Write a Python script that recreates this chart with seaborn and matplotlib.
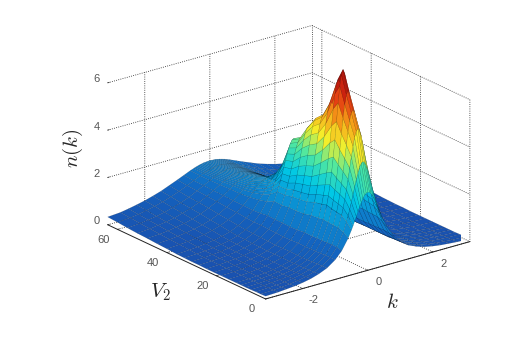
import numpy as np
import matplotlib
matplotlib.use("Agg")
import matplotlib.pyplot as plt
import seaborn as sns

sns.set_theme(style="white")
plt.rcParams["font.family"] = ["Liberation Sans", "DejaVu Sans"]
plt.rcParams["mathtext.fontset"] = "cm"
plt.rcParams["axes.unicode_minus"] = False

k_half = [0, .05, .1, .15, .2, .25, .3, .35, .4, .45, .5, .6, .8, 1, 1.25, 1.5, 1.75, 2, 2.25, 2.5, 2.75, 3.14]
V2 = [0, 2, 4, 6, 8, 10, 12, 15, 18, 21, 24, 27, 30, 33, 36, 40, 44, 48, 52, 56, 60, 64]
n_half = [
    [3.30, 3.28, 3.20, 3.09, 2.95, 2.78, 2.60, 2.41, 2.23, 2.05, 1.89, 1.59, 1.13, .83, .58, .43, .32, .25, .20, .17, .14, .12],
    [4.50, 4.45, 4.31, 4.09, 3.83, 3.53, 3.22, 2.92, 2.64, 2.38, 2.14, 1.74, 1.18, .83, .57, .41, .31, .24, .19, .16, .13, .11],
    [5.80, 5.71, 5.47, 5.11, 4.68, 4.22, 3.77, 3.34, 2.96, 2.62, 2.32, 1.84, 1.20, .83, .56, .40, .30, .23, .18, .15, .13, .11],
    [6.50, 6.39, 6.07, 5.62, 5.08, 4.52, 3.99, 3.50, 3.07, 2.69, 2.36, 1.85, 1.19, .81, .55, .39, .29, .22, .18, .15, .12, .10],
    [7.20, 7.06, 6.67, 6.10, 5.45, 4.80, 4.19, 3.64, 3.16, 2.75, 2.40, 1.86, 1.18, .80, .53, .38, .28, .22, .17, .14, .12, .10],
    [8.00, 7.82, 7.34, 6.65, 5.88, 5.12, 4.42, 3.80, 3.28, 2.83, 2.46, 1.89, 1.18, .80, .53, .38, .28, .22, .17, .14, .12, .10],
    [7.50, 7.34, 6.91, 6.30, 5.60, 4.90, 4.25, 3.67, 3.18, 2.76, 2.40, 1.85, 1.16, .79, .53, .37, .28, .21, .17, .14, .11, .10],
    [6.40, 6.29, 5.98, 5.53, 5.00, 4.45, 3.93, 3.45, 3.02, 2.65, 2.33, 1.82, 1.17, .80, .54, .38, .29, .22, .18, .14, .12, .10],
    [5.70, 5.61, 5.36, 4.99, 4.55, 4.09, 3.64, 3.22, 2.84, 2.50, 2.21, 1.74, 1.13, .78, .53, .38, .28, .22, .17, .14, .12, .10],
    [5.40, 5.32, 5.09, 4.76, 4.35, 3.93, 3.51, 3.11, 2.76, 2.44, 2.16, 1.71, 1.12, .77, .52, .37, .28, .22, .17, .14, .12, .10],
    [4.90, 4.84, 4.66, 4.39, 4.06, 3.70, 3.34, 2.99, 2.67, 2.39, 2.13, 1.71, 1.13, .79, .54, .39, .29, .22, .18, .15, .12, .10],
    [4.30, 4.25, 4.12, 3.91, 3.66, 3.37, 3.08, 2.79, 2.52, 2.27, 2.05, 1.66, 1.13, .80, .55, .39, .30, .23, .18, .15, .13, .11],
    [4.10, 4.06, 3.94, 3.76, 3.53, 3.28, 3.01, 2.75, 2.50, 2.27, 2.05, 1.68, 1.15, .82, .57, .41, .31, .24, .19, .16, .13, .11],
    [3.00, 2.98, 2.92, 2.83, 2.71, 2.57, 2.41, 2.25, 2.09, 1.94, 1.79, 1.52, 1.10, .81, .58, .42, .32, .25, .20, .17, .14, .12],
    [2.40, 2.39, 2.36, 2.30, 2.23, 2.14, 2.05, 1.95, 1.84, 1.73, 1.63, 1.43, 1.08, .83, .61, .45, .35, .28, .23, .19, .16, .13],
    [2.00, 1.99, 1.97, 1.94, 1.90, 1.85, 1.79, 1.73, 1.66, 1.58, 1.51, 1.36, 1.09, .87, .66, .51, .40, .32, .26, .22, .19, .16],
    [1.80, 1.80, 1.78, 1.76, 1.73, 1.69, 1.65, 1.60, 1.55, 1.50, 1.44, 1.32, 1.10, .90, .70, .55, .44, .36, .30, .25, .21, .18],
    [1.70, 1.70, 1.69, 1.67, 1.65, 1.62, 1.59, 1.55, 1.51, 1.46, 1.42, 1.32, 1.12, .94, .76, .61, .49, .40, .34, .28, .24, .21],
    [1.60, 1.60, 1.59, 1.58, 1.56, 1.54, 1.51, 1.48, 1.45, 1.42, 1.38, 1.30, 1.13, .97, .80, .65, .54, .44, .37, .32, .27, .23],
    [1.55, 1.55, 1.54, 1.53, 1.52, 1.50, 1.48, 1.45, 1.42, 1.39, 1.36, 1.29, 1.15, 1.00, .83, .69, .58, .48, .41, .35, .30, .26],
    [1.50, 1.50, 1.49, 1.48, 1.47, 1.46, 1.44, 1.42, 1.40, 1.38, 1.35, 1.29, 1.16, 1.03, .88, .75, .63, .54, .46, .39, .34, .30],
    [1.50, 1.50, 1.49, 1.49, 1.48, 1.46, 1.45, 1.43, 1.41, 1.39, 1.36, 1.31, 1.19, 1.07, .93, .79, .68, .58, .50, .43, .37, .33],
]
k_ticks = [-2, 0, 2]
V_ticks = [0, 20, 40, 60]
n_ticks = [0, 2, 4, 6]

half = np.array(n_half)
K = np.concatenate([-np.array(k_half[:0:-1]), np.array(k_half)])
Z = np.hstack([half[:, :0:-1], half])
KK, VV = np.meshgrid(K, np.array(V2))

cmap = sns.blend_palette(
    ["#1a50ae", "#1365c0", "#0a95d5", "#00c8e6", "#50e8a0", "#f5ee2a", "#f59a18", "#e02a10", "#8c0a0a"],
    as_cmap=True,
)

fig = plt.figure(figsize=(5.28, 3.54), dpi=100)
ax = fig.add_axes([20 / 528, 10 / 354, 1.0, 1.0], projection="3d", proj_type="ortho")
ax.view_init(elev=21.3, azim=-127.7)
ax.set_box_aspect((1, 1, 0.59), zoom=1.085)
ax.patch.set_alpha(0)

ax.plot_surface(KK, VV, Z, cmap=cmap, vmin=0, vmax=8, rstride=1, cstride=1,
                shade=False, linewidth=0.25, edgecolor=(0, 0, 0, 0.28), antialiased=True)

ax.set_xlim(-3.14, 3.14, view_margin=0)
ax.set_ylim(0, 64, view_margin=0)
ax.set_zlim(0, 6, view_margin=0)
ax.set_xticks(k_ticks)
ax.set_yticks(V_ticks)
ax.set_zticks(n_ticks)
for axis in (ax.xaxis, ax.yaxis, ax.zaxis):
    axis.set_pane_color((1, 1, 1, 0))
    axis.pane.set_edgecolor((1, 1, 1, 0))
    axis._axinfo["grid"].update(color="#222222", linestyle=":", linewidth=0.6)
    axis._axinfo["tick"].update(inward_factor=0.0, outward_factor=0.1,
                                linewidth={True: 0.5, False: 0.5}, color="#333333")
ax.zaxis.line.set_color((1, 1, 1, 0))
ax.xaxis.line.set_linewidth(0.7)
ax.yaxis.line.set_linewidth(0.7)
ax.xaxis.line.set_color("#222222")
ax.yaxis.line.set_color("#222222")
ax.tick_params(axis="both", labelsize=8, labelcolor="#555555", pad=1)
ax.tick_params(axis="z", labelsize=8, labelcolor="#555555", pad=-4)
for t in ax.get_xticklabels() + ax.get_yticklabels() + ax.get_zticklabels():
    t.set_verticalalignment("baseline")

for xs, ys in (([3.14, 3.14], [64, 64]), ([3.14, 3.14], [0, 0])):
    ax.plot(xs, ys, [0, 6], color="#222222", linestyle=":", linewidth=0.6, zorder=0)

fig.text(73 / 528, 1 - 148 / 354, r"$n(k)$", rotation=90, fontsize=15, ha="center", va="center")
fig.text(160 / 528, 1 - 292 / 354, r"$V_2$", fontsize=15, ha="center", va="center")
fig.text(392 / 528, 1 - 302 / 354, r"$k$", fontsize=15, ha="center", va="center")

fig.savefig("out.png", dpi=100, facecolor="white")
